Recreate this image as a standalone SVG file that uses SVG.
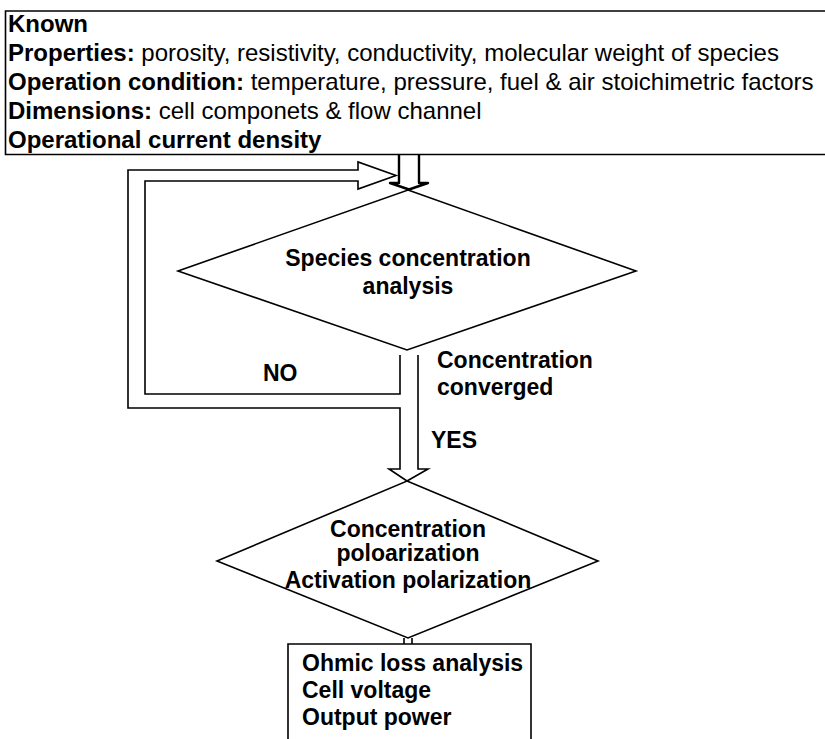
<svg xmlns="http://www.w3.org/2000/svg" width="825" height="739" viewBox="0 0 825 739">
<style>
text{font-family:"Liberation Sans",Arial,sans-serif;fill:#000}
.b{font-weight:bold}
.t{font-size:24px}
.d{font-size:23px;font-weight:bold}
.s{fill:none;stroke:#000;stroke-width:1.6}
.w{fill:#fff;stroke:#000;stroke-width:1.6}
</style>
<rect width="825" height="739" fill="#fff"/>
<g id="known">
<path class="s" d="M830,11 H5.5 V154.5 H830"/>
<text class="t b" x="8" y="32">Known</text>
<text class="t" x="8" y="61"><tspan class="b">Properties:</tspan> porosity, resistivity, conductivity, molecular weight of species</text>
<text class="t" x="8" y="90"><tspan class="b">Operation condition:</tspan> temperature, pressure, fuel &amp; air stoichimetric factors</text>
<text class="t" x="8" y="119"><tspan class="b">Dimensions:</tspan> cell componets &amp; flow channel</text>
<text class="t b" x="8" y="148">Operational current density</text>
</g>
<g id="species">
<polygon class="w" points="408,190 636,271 407,350 178,271"/>
<text class="d" x="408" y="266" text-anchor="middle">Species concentration</text>
<text class="d" x="408" y="294" text-anchor="middle">analysis</text>
</g>
<g id="polarization">
<polygon class="w" points="407,481 598,561 408,638 217,561"/>
<text class="d" x="408" y="537" text-anchor="middle">Concentration</text>
<text class="d" x="408" y="561" text-anchor="middle">poloarization</text>
<text class="d" x="408" y="588" text-anchor="middle">Activation polarization</text>
</g>
<g id="output">
<path class="s" d="M288,745 V644 H531 V745"/>
<text class="d" x="302" y="671">Ohmic loss analysis</text>
<text class="d" x="302" y="698">Cell voltage</text>
<text class="d" x="302" y="725">Output power</text>
</g>
<g id="connectors">
<path d="M399,155 V183 H390 L409,189.5 L428,183 H419 V155" fill="none" stroke="#000" stroke-width="2.4" stroke-linejoin="round"/>
<path class="s" d="M400,355 V394 H145 V181 H358 V189 L396,175.5 L358,162 V170 H128 V408 H400 V469 H389 L407,481 L428,469 H418 V355"/>
<path class="s" d="M404,638 V644 M412,638 V644"/>
</g>
<g id="labels">
<text class="d" x="263" y="381">NO</text>
<text class="d" x="437" y="368">Concentration</text>
<text class="d" x="437" y="395">converged</text>
<text class="d" x="431" y="448">YES</text>
</g>
</svg>
